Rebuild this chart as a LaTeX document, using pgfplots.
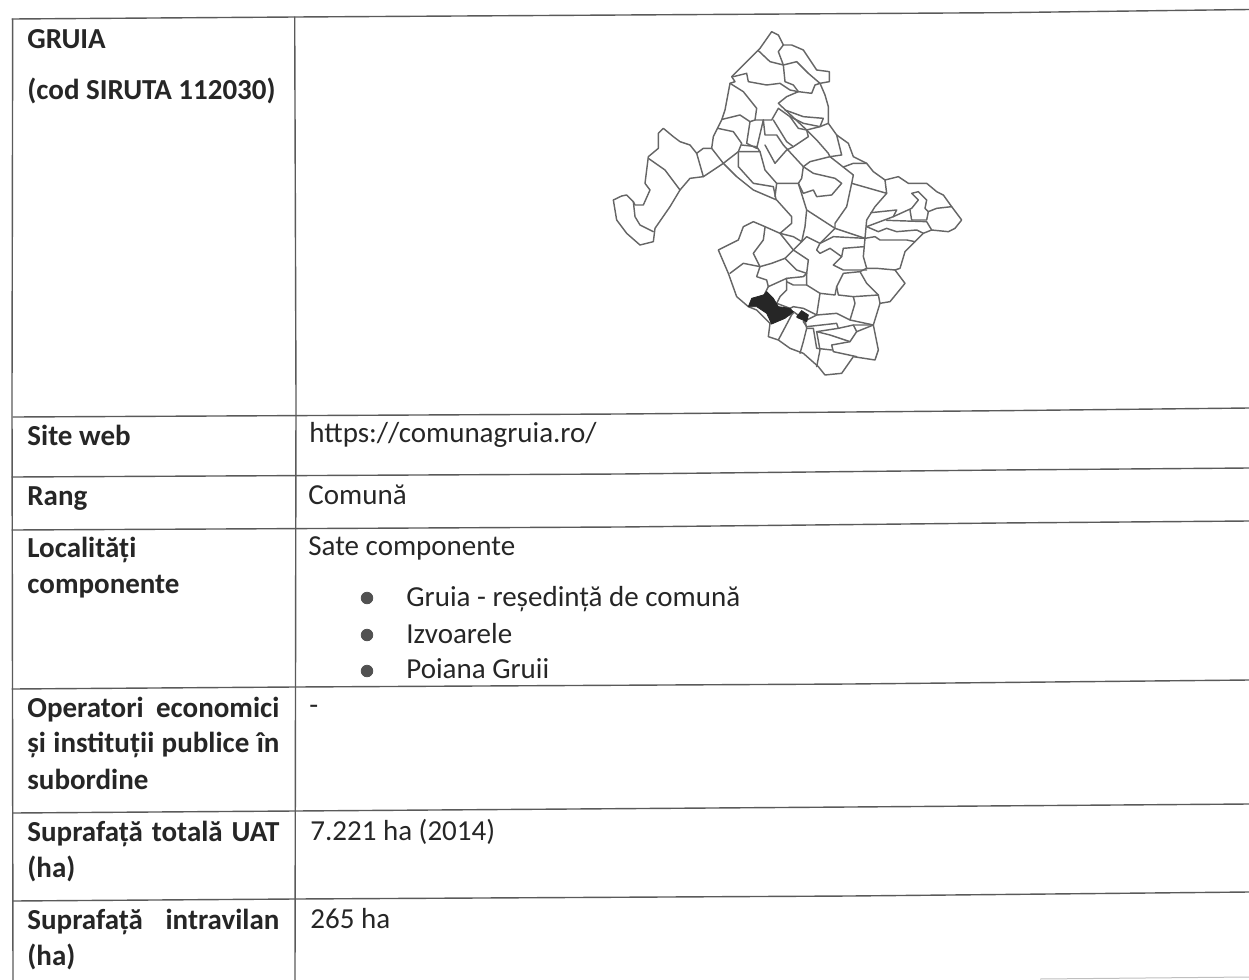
\documentclass[border=0pt]{standalone}
\usepackage{pgfplots}
\pgfplotsset{compat=1.18}
\usepackage{fontspec}
\setmainfont{Carlito}
\definecolor{ink}{HTML}{262626}
\definecolor{rulec}{HTML}{5A5A5A}
\definecolor{mapl}{HTML}{666666}
\pgfplotsset{
  rl/.style={rulec,solid,line width=0.7pt,line cap=round,no markers},
  ml/.style={mapl,solid,line width=0.72pt,line join=round,line cap=round,no markers}}
\newcommand{\R}[1]{\addplot[rl] coordinates {#1};}
\newcommand{\M}[1]{\addplot[ml] coordinates {#1};}
\newcommand{\T}[3]{\node[anchor=base west,inner sep=0pt,text=ink] at (axis cs:#1,#2) {\fontsize{14.5pt}{17pt}\selectfont #3};}
\newcommand{\B}[3]{\node[anchor=base west,inner sep=0pt,text=ink] at (axis cs:#1,#2) {\fontsize{14.5pt}{17pt}\selectfont\bfseries #3};}
\begin{document}
\begin{tikzpicture}
\useasboundingbox (0pt,0pt) rectangle (624.5pt,490pt);
\begin{axis}[
  name=page, at={(0pt,0pt)}, anchor=south west,
  scale only axis, width=624.5pt, height=490pt,
  xmin=0, xmax=1249, ymin=0, ymax=980, y dir=reverse,
  hide axis, no markers,
]
% table rules
\R{(12,19) (295,17) (1000,12.7) (1249,9.5)}
\R{(13,417) (620,414) (1000,410.7) (1249,408)}
\R{(12,477) (620,474) (1000,470) (1249,468)}
\R{(12,530) (620,527) (1000,523) (1249,521)}
\R{(12,689) (295,687) (850,684) (1249,680)}
\R{(13,813) (295,811) (850,807) (1249,804)}
\R{(13,901) (295,899) (850,896) (1249,892)}
\addplot[color=black!25, line width=0.5pt] coordinates {(1040,979) (1249,977)};
\R{(12.7,19) (12,400) (13,980)}
\R{(294.7,17) (296,400) (295,980)}
% bullets
\addplot[only marks, mark=*, mark size=2.9pt, color=ink!80, mark options={draw=none}] coordinates {(367,598) (367,635) (367,671)};
% left column
\B{27}{48}{GRUIA}
\B{27}{99}{(cod SIRUTA 112030)}
\B{27}{445}{Site web}
\B{27}{505}{Rang}
\B{27}{557}{Localități}
\B{27}{593}{componente}
\B{27}{717}{\makebox[126pt][s]{Operatori\hfil economici}}
\B{27}{752}{\makebox[126pt][s]{și\hfil instituții\hfil publice\hfil în}}
\B{27}{789}{subordine}
\B{27}{841}{\makebox[126pt][s]{Suprafață\hfil totală\hfil UAT}}
\B{27}{877}{(ha)}
\B{27}{929}{\makebox[126pt][s]{Suprafață\hfil intravilan}}
\B{27}{965}{(ha)}
% right column
\T{309}{442}{https://comunagruia.ro/}
\T{308}{504}{Comună}
\T{308}{555}{Sate componente}
\T{406}{606}{Gruia - reședință de comună}
\T{406}{643}{Izvoarele}
\T{406}{678}{Poiana Gruii}
\T{309}{714}{-}
\T{310}{840}{7.221 ha (2014)}
\T{310}{928}{265 ha}
\end{axis}
\begin{axis}[
  name=map, at={(295pt,295pt)}, anchor=south west,
  scale only axis, width=195pt, height=185pt,
  xmin=0, xmax=1170, ymin=0, ymax=1110, y dir=reverse,
  hide axis, no markers,
]
% county outline
\M{(70,540)(95,528)(110,525)(130,545)(135,555)(160,555)(180,510)(165,490)(175,410)(205,385)(205,340)(220,325)(250,350)(270,365)(300,375)(320,400)(340,385)(365,385)(370,350)(395,300)(405,270)(420,190)(435,185)(425,170)(465,130)(510,85)(545,35)(565,45)(580,75)(605,75)(640,90)(680,150)(718,155)(718,185)(690,190)(705,225)(715,260)(715,310)(740,345)(775,370)(790,410)(830,430)(850,455)(885,480)(925,470)(955,490)(1010,490)(1040,515)(1060,525)(1085,560)(1115,600)(1095,625)(1075,635)(1025,630)(1000,640)(975,665)(945,695)(930,745)(915,750)(945,790)(900,845)(870,850)(850,915)(865,990)(855,1020)(790,1010)(755,1060)(705,1065)(685,1040)(640,1000)(600,985)(565,960)(535,950)(540,910)(500,870)(475,860)(440,830)(415,760)(385,690)(445,660)(460,620)(490,605)(525,620)(570,640)(605,610)(605,590)(560,540)(490,510)(440,470)(400,430)(340,470)(300,475)(270,510)(240,560)(195,625)(190,665)(150,675)(110,640)(80,600)(70,540)}
% west piece
\M{(130,545)(135,590)(150,615)(190,635)}
\M{(175,415)(225,450)(270,510)}
\M{(320,400)(340,470)}
\M{(365,385)(400,430)}
% interior boundaries
\M{(505,92)(540,125)(580,135)(565,95)(580,75)}
\M{(580,135)(585,185)(610,195)(625,215)(665,220)(675,195)(690,190)}
\M{(580,135)(620,125)(655,160)(690,190)}
\M{(430,170)(470,160)(475,185)(530,195)(570,190)(600,210)(625,215)}
\M{(625,215)(590,230)(565,250)}
\M{(420,190)(460,215)(500,265)(495,300)}
\M{(397,298)(450,285)(480,305)(495,300)(545,300)(565,265)(600,290)(625,325)(650,330)}
\M{(565,250)(650,330)}
\M{(585,270)(640,290)(700,295)(690,320)(640,310)(600,290)}
\M{(650,330)(690,320)(715,310)}
\M{(650,330)(655,350)(610,380)(590,365)(550,300)}
\M{(480,305)(470,370)(500,385)(520,300)}
\M{(520,300)(525,345)(560,345)(580,375)}
\M{(383,325)(430,335)(455,370)(445,395)(400,430)}
\M{(455,375)(500,380)(510,395)(445,395)}
\M{(510,395)(525,450)(560,490)}
\M{(445,395)(445,440)(490,490)(550,500)(558,538)}
\M{(525,375)(555,430)(590,390)(610,380)}
\M{(580,375)(640,440)(635,475)(625,490)(560,490)(555,530)}
\M{(650,330)(680,360)(715,400)(720,410)(755,405)(740,345)}
\M{(720,410)(660,425)(640,440)}
\M{(720,410)(790,465)(785,490)(890,520)(885,480)}
\M{(760,441)(790,430)(830,430)}
\M{(640,440)(670,460)(735,475)(755,490)(725,525)(680,530)(670,510)(640,520)(625,490)}
\M{(625,490)(650,570)(735,625)(825,655)}
\M{(785,490)(770,560)(735,610)(735,625)}
\M{(890,520)(855,560)(830,600)(825,655)(820,710)(830,745)(860,745)(915,750)}
\M{(843,578)(920,570)(910,590)(830,620)}
\M{(910,590)(965,565)(985,540)(965,520)(985,515)(1010,540)(1005,565)(1015,575)(1040,565)(1085,560)}
\M{(960,570)(965,600)(1010,600)(1015,575)}
\M{(890,601)(1010,605)(1025,630)}
\M{(830,620)(865,635)(890,625)(920,635)(980,630)(1000,640)}
\M{(825,655)(855,650)(870,660)(950,660)(975,665)}
\M{(650,570)(645,620)(635,665)(610,650)(570,640)}
\M{(735,625)(690,670)(650,650)(635,665)(610,690)(585,715)(620,750)(650,760)(655,720)(610,690)}
\M{(690,670)(680,690)(690,700)(720,685)(755,710)(730,735)(760,750)(830,750)}
\M{(690,670)(730,650)(825,655)}
\M{(760,685)(822,680)}
\M{(755,710)(760,685)}
\M{(570,640)(610,690)}
\M{(525,622)(520,660)(490,700)(510,740)(460,730)(420,760)}
\M{(510,740)(545,730)(585,715)}
\M{(510,740)(500,770)(530,780)(535,800)(590,775)(640,770)(650,760)}
\M{(535,800)(525,820)}
\M{(650,760)(650,795)(690,820)(735,825)(740,800)(760,760)(810,755)(830,790)(865,825)(870,850)}
\M{(590,775)(590,785)(610,795)(650,795)}
\M{(590,785)(590,810)(570,830)(560,850)(600,865)}
\M{(690,820)(680,885)(640,865)(610,860)(600,865)}
\M{(740,800)(745,825)(790,830)(865,825)}
\M{(810,755)(830,745)}
\M{(790,830)(795,850)(780,900)(740,880)(680,885)}
\M{(780,900)(850,915)}
\M{(680,885)(640,905)(650,920)(740,910)(745,925)(790,915)(850,915)}
\M{(790,915)(800,935)(780,965)(725,975)(730,995)(800,1010)}
\M{(745,925)(680,935)(690,990)(680,1040)}
\M{(650,925)(670,925)(680,985)(725,990)}
\M{(680,935)(720,945)(780,965)}
\M{(800,935)(850,915)}
\M{(610,875)(565,960)}
\M{(610,880)(540,910)}
\M{(610,875)(645,900)(650,925)(640,965)(630,1000)}
% highlighted commune
\addplot[fill=ink, draw=ink, line width=0.4pt] coordinates {(475,860)(485,835)(520,825)(530,815)(550,835)(565,860)(600,865)(610,875)(585,895)(545,912)(530,880)(500,860)(475,860)};
\addplot[fill=ink, draw=ink, line width=0.4pt] coordinates {(620,890)(635,872)(655,885)(650,905)(620,892)};
\end{axis}
\end{tikzpicture}
\end{document}
